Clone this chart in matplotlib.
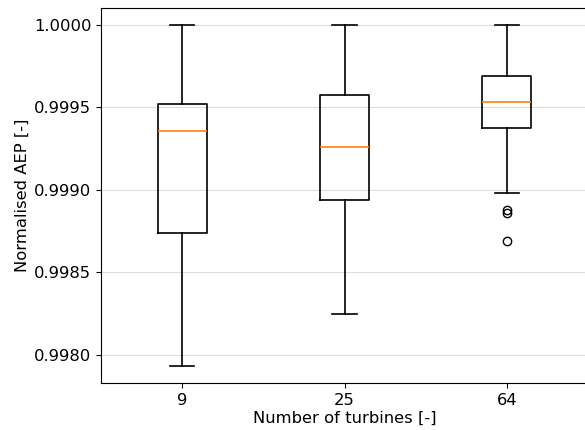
import matplotlib
matplotlib.use("Agg")
import matplotlib.pyplot as plt

labels = ["9", "25", "64"]
whislo = [0.997933, 0.998248, 0.998982]
q1 = [0.998739, 0.998939, 0.999376]
med = [0.999358, 0.999261, 0.999533]
q3 = [0.999521, 0.999576, 0.999691]
whishi = [1.0, 1.0, 1.0]
fliers = [[], [], [0.998879, 0.998861, 0.998691]]

stats = []
for i in range(len(labels)):
    stats.append({
        "label": labels[i],
        "whislo": whislo[i],
        "q1": q1[i],
        "med": med[i],
        "q3": q3[i],
        "whishi": whishi[i],
        "fliers": fliers[i],
    })

plt.rcParams["font.size"] = 11.8
fig = plt.figure(figsize=(5.85, 4.3), dpi=100)
ax = fig.add_axes([101 / 585, 1 - 383 / 430, 487 / 585, 375 / 430])
ax.grid(axis="y", color="#dddddd", zorder=0)
ax.set_axisbelow(True)
ax.bxp(stats, widths=0.3,
       boxprops={"linewidth": 1.2}, whiskerprops={"linewidth": 1.2},
       capprops={"linewidth": 1.2}, medianprops={"linewidth": 1.2})
ax.set_ylim(0.99783, 1.000103)
ax.set_xlabel("Number of turbines [-]", labelpad=2.5)
ax.set_ylabel("Normalised AEP [-]", labelpad=3)
fig.savefig("out.png", dpi=100)
